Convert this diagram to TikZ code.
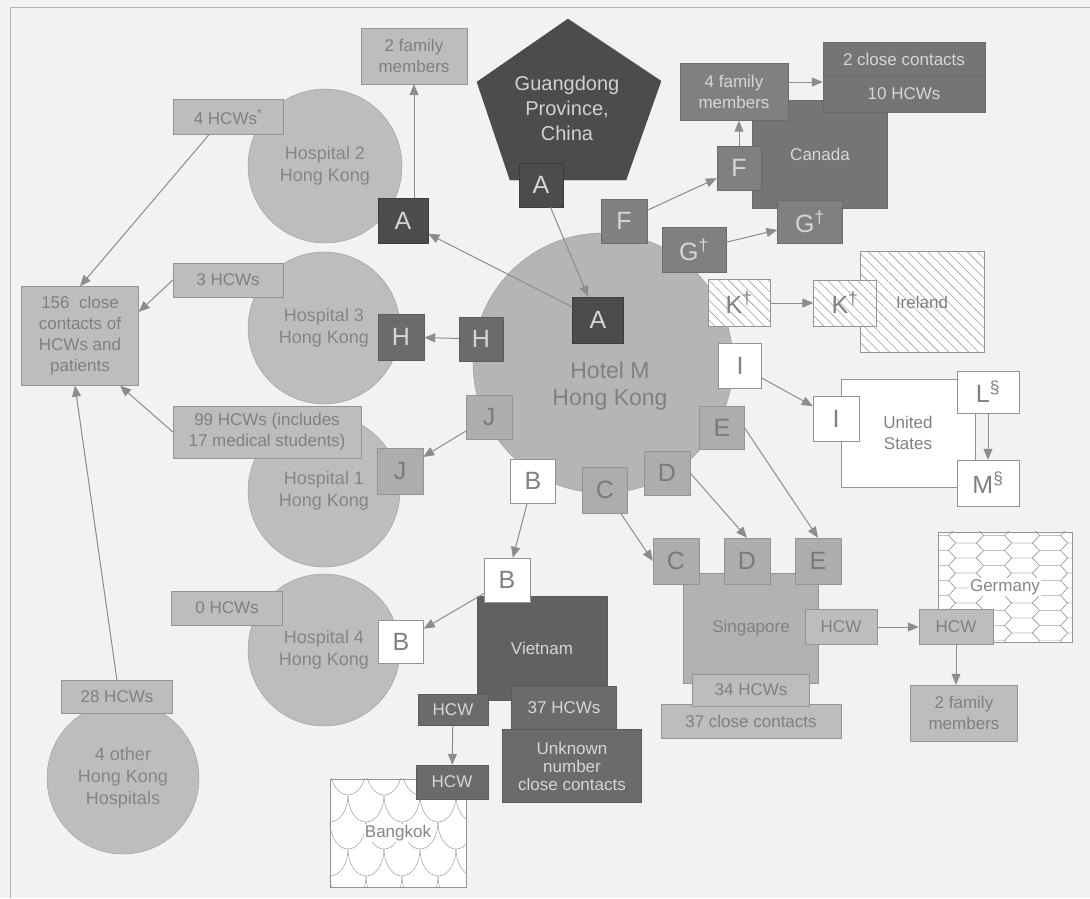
\documentclass[tikz,border=0pt]{standalone}
\usepackage{fontspec}
\setmainfont{Liberation Sans}
\usetikzlibrary{arrows.meta,patterns.meta}

\begin{document}
\begin{tikzpicture}[x=1pt, y=-1pt,
  box/.style={shape=rectangle, draw=black!42, inner sep=0pt, align=center},
  lite/.style={box, fill=black!26, text=black!50},
  letr/.style={box, fill=black!32, text=black!52},
  mid/.style={box, fill=black!50, draw=black!58, text=black!16},
  dk/.style={box, fill=black!70, draw=black!76, text=black!16},
  hd/.style={box, fill=black!58, draw=black!64, text=black!16},
  wht/.style={box, fill=white, text=black!50},
  hatch/.style={box, text=black!50, preaction={fill=white}, pattern={Lines[angle=-45,distance=7pt,line width=0.6pt]}, pattern color=black!38},
  hosp/.style={shape=circle, draw=black!40, fill=black!26, text=black!48, inner sep=0pt, align=center, font=\fontsize{18}{22}\selectfont},
  lbl/.style={font=\fontsize{17}{21}\selectfont},
  ltr/.style={font=\fontsize{25}{28}\selectfont},
  arr/.style={draw=black!45, line width=1pt, -{Triangle[length=11pt,width=9pt]}}]
\useasboundingbox (0,0) rectangle (1090,898);
\fill[black!5] (0,0) rectangle (1090,898);
\draw[black!30, line width=1pt] (10,898) -- (10,7) -- (1090,7);

% Hotel M and Guangdong
\node[hosp, fill=black!29, minimum size=260pt] (hotel) at (603,363) {};
\node[text=black!50, font=\fontsize{23}{27}\selectfont, align=center] (hotelTxt) at (610,386) {Hotel M\\Hong Kong};
\filldraw[fill=black!70, draw=black!74] (568,19) -- (661,81) -- (626,180) -- (510,180) -- (477,82) -- cycle;
\node[text=black!18, font=\fontsize{20}{25}\selectfont, align=center] (gd) at (567,108) {Guangdong\\Province,\\China};
\node[dk, ltr, minimum width=44pt, minimum height=44pt] (aGd) at (541,185) {A};

% hospitals
\node[hosp, minimum size=154pt] (h2) at (325,166) {Hospital 2\\Hong Kong};
\node[hosp, minimum size=152pt] (h3) at (324,328) {Hospital 3\\Hong Kong};
\node[hosp, minimum size=152pt] (h1) at (324,491) {Hospital 1\\Hong Kong};
\node[hosp, minimum size=152pt] (h4) at (324,650) {Hospital 4\\Hong Kong};
\node[hosp, minimum size=152pt] (hOther) at (123,778) {4 other\\Hong Kong\\Hospitals};
\node[lite, lbl, minimum width=106pt, minimum height=56pt] (fam2) at (414,56) {2 family\\members};
\node[lite, lbl, minimum width=110pt, minimum height=35pt] (hcw4) at (228,117) {4 HCWs\textsuperscript{*}};
\node[lite, lbl, minimum width=110pt, minimum height=34pt] (hcw3) at (228,280) {3 HCWs};
\node[lite, lbl, minimum width=188pt, minimum height=52pt] (hcw99) at (267,432) {99 HCWs (includes\\17 medical students)};
\node[lite, lbl, minimum width=111pt, minimum height=34pt] (hcw0) at (227,608) {0 HCWs};
\node[lite, lbl, minimum width=111pt, minimum height=33pt] (hcw28) at (117,697) {28 HCWs};
\node[lite, lbl, minimum width=117pt, minimum height=99pt] (cc156) at (80,336) {156~ close\\contacts of\\HCWs and\\patients};
\node[dk, ltr, minimum width=50pt, minimum height=45pt] (aH2) at (403,221) {A};
\node[hd, ltr, minimum width=46pt, minimum height=46pt] (hH3) at (401,337) {H};
\node[letr, ltr, minimum width=46pt, minimum height=46pt] (jH1) at (400,471) {J};
\node[wht, ltr, minimum width=45pt, minimum height=43pt] (bH4) at (401,642) {B};

% boxes round Hotel M
\node[dk, ltr, minimum width=51pt, minimum height=46pt] (aHot) at (598,320) {A};
\node[mid, ltr, minimum width=46pt, minimum height=44pt] (fHot) at (624,221) {F};
\node[mid, ltr, minimum width=64pt, minimum height=45pt] (gHot) at (694,250) {G\textsuperscript{\textdagger}};
\node[hatch, ltr, minimum width=62pt, minimum height=47pt] (kHot) at (739,303) {K\textsuperscript{\textdagger}};
\node[wht, ltr, minimum width=43pt, minimum height=45pt] (iHot) at (740,366) {I};
\node[letr, ltr, minimum width=45pt, minimum height=43pt] (eHot) at (722,428) {E};
\node[letr, ltr, minimum width=46pt, minimum height=44pt] (dHot) at (667,473) {D};
\node[letr, ltr, minimum width=45pt, minimum height=46pt] (cHot) at (605,490) {C};
\node[wht, ltr, minimum width=45pt, minimum height=44pt] (bHot) at (533,481) {B};
\node[letr, ltr, minimum width=46pt, minimum height=44pt] (jHot) at (489,417) {J};
\node[hd, ltr, minimum width=44pt, minimum height=44pt] (hHot) at (481,339) {H};

% Canada
\node[mid, fill=black!54, lbl, minimum width=135pt, minimum height=108pt] (canada) at (820,154) {Canada};
\node[mid, lbl, minimum width=108pt, minimum height=57pt] (fam4) at (734,92) {4 family\\members};
\node[mid, fill=black!54, lbl, minimum width=162pt, minimum height=34pt] (cc2) at (904,59) {2 close contacts};
\node[mid, fill=black!54, lbl, minimum width=162pt, minimum height=36pt] (hcw10) at (904,94) {10 HCWs};
\node[mid, ltr, minimum width=44pt, minimum height=44pt] (fCan) at (739,168) {F};
\node[mid, ltr, minimum width=65pt, minimum height=43pt] (gCan) at (810,222) {G\textsuperscript{\textdagger}};

% Ireland and United States
\node[hatch, lbl, minimum width=124pt, minimum height=101pt] (ireland) at (922,302) {Ireland};
\node[hatch, ltr, minimum width=63pt, minimum height=46pt] (kIre) at (845,303) {K\textsuperscript{\textdagger}};
\node[wht, lbl, minimum width=134pt, minimum height=108pt] (us) at (908,433) {United\\States};
\node[wht, ltr, minimum width=46pt, minimum height=45pt] (iUS) at (836,419) {I};
\node[wht, ltr, minimum width=62pt, minimum height=42pt] (lUS) at (988,392) {L\textsuperscript{\S}};
\node[wht, ltr, minimum width=62pt, minimum height=46pt] (mUS) at (988,483) {M\textsuperscript{\S}};

% Singapore
\node[lite, fill=black!30, lbl, minimum width=135pt, minimum height=110pt] (sg) at (751,628) {Singapore};
\node[letr, ltr, minimum width=46pt, minimum height=46pt] (cSg) at (676,561) {C};
\node[letr, ltr, minimum width=46pt, minimum height=46pt] (dSg) at (747,561) {D};
\node[letr, ltr, minimum width=46pt, minimum height=46pt] (eSg) at (818,561) {E};
\node[lite, lbl, minimum width=72pt, minimum height=35pt] (hcwSg) at (841,627) {HCW};
\node[lite, lbl, minimum width=180pt, minimum height=34pt] (cc37) at (751,721) {37 close contacts};
\node[lite, lbl, minimum width=117pt, minimum height=32pt] (hcw34) at (751,690) {34 HCWs};

% Germany
\node[wht, minimum width=134pt, minimum height=110pt] (de) at (1005,587) {};
\begin{scope}
\clip (de.north west) rectangle (de.south east);
\foreach \r in {0,...,15} {
  \foreach \c in {-1,...,3} {
    \pgfmathsetmacro\hx{938+56*\c+28*mod(\r,2)}
    \pgfmathsetmacro\hy{528+7.5*\r}
    \draw[black!40] ({\hx-17.5},\hy) -- ({\hx-10.5},{\hy-7.5}) -- ({\hx+10.5},{\hy-7.5}) -- ({\hx+17.5},\hy) -- ({\hx+10.5},{\hy+7.5}) -- ({\hx-10.5},{\hy+7.5}) -- cycle;
  }
}
\end{scope}
\draw[black!42] (de.north west) rectangle (de.south east);
\node[lbl, fill=white, text=black!48, inner sep=1pt] (deTxt) at (de.center) {Germany};
\node[lite, lbl, minimum width=74pt, minimum height=35pt] (hcwDe) at (956,627) {HCW};
\node[lite, lbl, minimum width=107pt, minimum height=56pt] (fam2De) at (964,713) {2 family\\members};

% Vietnam and Bangkok
\node[hd, fill=black!62, lbl, minimum width=130pt, minimum height=104pt] (vn) at (542,648) {Vietnam};
\node[hd, lbl, minimum width=105pt, minimum height=44pt] (hcw37) at (564,708) {37 HCWs};
\node[hd, font=\fontsize{17}{18}\selectfont, minimum width=139pt, minimum height=73pt] (unk) at (572,766) {Unknown\\number\\close contacts};
\node[wht, ltr, minimum width=46pt, minimum height=44pt] (bVn) at (507,580) {B};
\node[hd, lbl, minimum width=70pt, minimum height=31pt] (hcwVn) at (453,710) {HCW};
\node[wht, minimum width=136pt, minimum height=108pt] (bk) at (398,833) {};
\begin{scope}
\clip (bk.north west) rectangle (bk.south east);
\foreach \r in {0,...,4} {
  \foreach \c in {-1,...,4} {
    \draw[black!45] ({330+36*\c+18*mod(\r,2)},{768+27*\r}) arc[start angle=180, end angle=360, x radius=18pt, y radius=27pt];
  }
}
\end{scope}
\draw[black!42] (bk.north west) rectangle (bk.south east);
\node[lbl, fill=white, text=black!48, inner sep=1pt] (bkTxt) at (bk.center) {Bangkok};
\node[hd, lbl, minimum width=72pt, minimum height=34pt] (hcwBk) at (452,782) {HCW};

% spread
\path (aH2.north -| fam2.south) edge[arr] (fam2.south);
\path (aHot) edge[arr] (aH2);
\path (aGd) edge[arr] (aHot);
\path (fHot) edge[arr] (fCan);
\path (fCan.north) edge[arr] (fCan.north |- fam4.south);
\path ([yshift=10pt]fam4.east) edge[arr] ([yshift=10pt]fam4.east -| hcw10.west);
\path (gHot) edge[arr] (gCan);
\path (kHot) edge[arr] (kIre);
\path (iHot) edge[arr] (iUS);
\path (lUS) edge[arr] (mUS);
\path (eHot.east) edge[arr] (eSg.north);
\path (dHot.east) edge[arr] (dSg.north);
\path (cHot) edge[arr] (cSg.west);
\path (bHot) edge[arr] (bVn);
\path (bVn) edge[arr] (bH4);
\path (jHot) edge[arr] (jH1);
\path (hHot) edge[arr] (hH3);
\path ([xshift=-19pt]hcw4.south) edge[arr] (cc156.north);
\path (hcw3.west) edge[arr] ([yshift=24pt]cc156.east);
\path (hcw99.west) edge[arr] ([xshift=40pt]cc156.south);
\path (hcw28.north) edge[arr] ([xshift=-5pt]cc156.south);
\path (hcwVn) edge[arr] (hcwBk);
\path (hcwSg) edge[arr] (hcwDe);
\path (hcwDe.south) edge[arr] (hcwDe.south |- fam2De.north);
\end{tikzpicture}
\end{document}
